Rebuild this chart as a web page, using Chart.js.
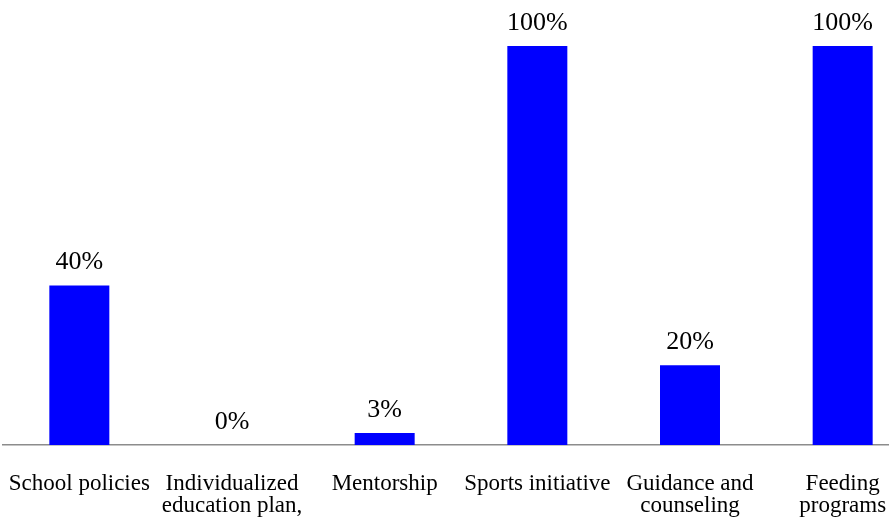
<!DOCTYPE html>
<html>
<head>
<meta charset="utf-8">
<script src="https://cdn.jsdelivr.net/npm/chart.js@4/dist/chart.umd.min.js"></script>
<style>
html,body{margin:0;padding:0;background:#fff;overflow:hidden;width:889px;height:518px;}
canvas{display:block;}
</style>
</head>
<body>
<canvas id="c" width="922" height="518"></canvas>
<script>
const categories = [
  ["School policies"],
  ["Individualized", "education plan,"],
  ["Mentorship"],
  ["Sports initiative"],
  ["Guidance and", "counseling"],
  ["Feeding", "programs"]
];
const values = [40, 0, 3, 100, 20, 100];
const valueLabels = ["40%", "0%", "3%", "100%", "20%", "100%"];

const FONT = "'Liberation Serif', 'Times New Roman', serif";

const valueLabelPlugin = {
  id: 'valueLabels',
  afterDatasetsDraw(chart) {
    const ctx = chart.ctx;
    const meta = chart.getDatasetMeta(0);
    ctx.save();
    ctx.font = "26px " + FONT;
    ctx.fillStyle = "#000";
    ctx.textAlign = "center";
    ctx.textBaseline = "middle";
    meta.data.forEach((bar, i) => {
      ctx.fillText(valueLabels[i], bar.x, bar.y - 23);
    });
    ctx.restore();
  }
};

new Chart(document.getElementById('c'), {
  type: 'bar',
  data: {
    labels: categories,
    datasets: [{
      data: values,
      backgroundColor: '#0000FF',
      borderWidth: 0,
      barPercentage: 0.393,
      categoryPercentage: 1.0
    }]
  },
  options: {
    responsive: false,
    animation: false,
    layout: { padding: { top: 46, left: 3, right: 3, bottom: 0 } },
    plugins: { legend: { display: false }, tooltip: { enabled: false } },
    scales: {
      x: {
        grid: { display: false },
        border: { display: true, color: '#8c8c8c', width: 1.5 },
        ticks: {
          color: '#000',
          font: { family: FONT, size: 23, lineHeight: 0.95 },
          padding: 20,
          maxRotation: 0,
          minRotation: 0,
          autoSkip: false
        },
        afterFit(scale) {
          scale.height = 73;
          scale.paddingLeft = 0;
          scale.paddingRight = 0;
        }
      },
      y: {
        display: false,
        min: 0,
        max: 100
      }
    }
  },
  plugins: [valueLabelPlugin]
});
</script>
</body>
</html>
